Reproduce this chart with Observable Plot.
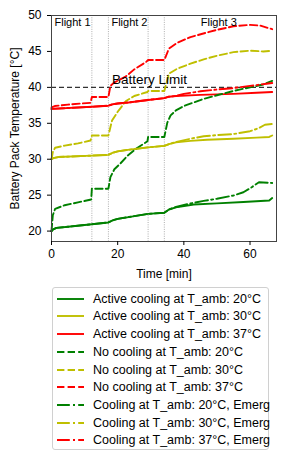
<!DOCTYPE html>
<html>
<head>
<meta charset="utf-8">
<script src="https://cdn.jsdelivr.net/npm/d3@7"></script>
<script src="https://cdn.jsdelivr.net/npm/@observablehq/plot@0.6"></script>
<style>
  body { margin: 0; background: #fff; font-family: "Liberation Sans", Arial, sans-serif; }
  #wrap { position: relative; width: 286px; height: 463px; }
  #legend { position: absolute; left: 52px; top: 287px; width: 217px; height: 163px;
    border: 1px solid #d0d0d0; border-radius: 3px; background: #fff; box-sizing: border-box; }
  .row { position: absolute; left: 0; height: 18px; display: flex; align-items: center; font-size: 12.5px; color: #000; white-space: nowrap; }
  .row svg { margin-left: 4px; margin-right: 9px; }
</style>
</head>
<body>
<div id="wrap"><div id="chart"></div><div id="legend"></div></div>
<script>
// ---- data ----
const flightBounds = [12.2, 17.2, 29.2, 34.1];
const tEnd = 67;
const batteryLimit = 40;
const flightLabels = ["Flight 1", "Flight 2", "Flight 3"];

const t_act20 = [0, 0.5, 1.5, 5, 12.2, 17.2, 18.5, 20, 23.3, 29.2, 34.1, 35.5, 37.6, 43, 50, 58, 65.8, 66.7];
const v_act20 = [20.0, 20.25, 20.45, 20.6, 20.95, 21.2, 21.5, 21.7, 21.95, 22.4, 22.55, 23.0, 23.3, 23.7, 23.85, 24.05, 24.25, 24.6];

const t_act30 = [0, 0.5, 2, 12.2, 17.2, 18.5, 20, 23, 29.2, 34.1, 35.5, 37.6, 42, 47, 55, 62, 65.8, 66.7];
const v_act30 = [30.0, 30.15, 30.3, 30.5, 30.6, 30.9, 31.1, 31.3, 31.65, 31.85, 32.1, 32.35, 32.55, 32.7, 32.85, 33.0, 33.1, 33.3];

const t_act37 = [0, 12.2, 17.2, 18.5, 20, 23.3, 29.2, 34.1, 35.5, 37.6, 45, 55, 62, 66.7];
const v_act37 = [37.0, 37.3, 37.45, 37.65, 37.75, 37.9, 38.25, 38.5, 38.7, 38.8, 38.95, 39.1, 39.25, 39.35];

const t_no20 = [0, 0.4, 1.1, 4, 8, 12.0, 12.2, 17.2, 17.8, 19, 20.8, 23, 26, 29, 29.2, 34.1, 35, 36, 37.6, 40, 43, 46, 50, 55, 60, 64, 66.7];
const v_no20 = [20.0, 22.2, 23.1, 23.6, 24.0, 24.4, 25.9, 25.9, 27.5, 28.6, 29.4, 30.5, 31.6, 32.5, 33.1, 33.1, 35.1, 36.1, 36.8, 37.4, 37.9, 38.4, 38.9, 39.5, 40.0, 40.4, 40.9];

const t_no30 = [0, 0.4, 1.1, 4, 8, 11.8, 12.2, 17.2, 18.3, 20, 22.5, 25, 29, 29.2, 34.1, 35.5, 38, 42, 46, 50, 55, 60, 64, 66.7];
const v_no30 = [30.0, 31.0, 31.6, 31.9, 32.2, 32.6, 33.3, 33.3, 35.4, 36.6, 38.1, 38.8, 39.35, 39.5, 39.5, 41.9, 42.6, 43.3, 43.9, 44.4, 44.9, 45.1, 45.0, 45.1];

const t_no37 = [0, 1, 5, 11.8, 12.2, 17.2, 17.8, 19, 20.8, 22.4, 25, 28.5, 29.2, 34.1, 35.5, 38, 42, 46.7, 50, 55, 60, 63, 66.7];
const v_no37 = [37.2, 37.4, 37.6, 37.85, 38.65, 38.65, 40.2, 40.7, 41.1, 41.5, 42.5, 43.5, 43.8, 43.8, 45.4, 46.2, 47.0, 47.6, 48.0, 48.5, 48.7, 48.6, 48.1];

const t_em20 = [0, 0.5, 1.5, 5, 12.2, 17.2, 18.5, 20, 23.3, 29.2, 34.1, 35.5, 37.6, 42, 46, 50, 55, 58, 60.5, 62.7, 66.7];
const v_em20 = [20.0, 20.25, 20.45, 20.6, 20.95, 21.2, 21.5, 21.7, 21.95, 22.4, 22.55, 23.0, 23.35, 23.85, 24.2, 24.5, 24.95, 25.4, 26.1, 26.8, 26.7];

const t_em30 = [0, 0.5, 2, 12.2, 17.2, 18.5, 20, 23, 29.2, 34.1, 35.5, 37.6, 42, 46, 50, 55, 60, 62.5, 64.5, 66.7];
const v_em30 = [30.0, 30.15, 30.3, 30.5, 30.6, 30.9, 31.1, 31.3, 31.65, 31.85, 32.1, 32.4, 32.85, 33.2, 33.35, 33.5, 33.9, 34.3, 34.8, 34.9];

const t_em37 = [0, 12.2, 17.2, 18.5, 20, 23.3, 29.2, 34.1, 35.5, 37.6, 40, 45, 50, 55, 60, 65, 66.7];
const v_em37 = [37.0, 37.3, 37.45, 37.65, 37.75, 37.9, 38.25, 38.5, 38.7, 38.8, 39.1, 39.45, 39.7, 39.9, 40.2, 40.5, 40.6];

const seriesNames = [
  "Active cooling at T_amb: 20°C", "Active cooling at T_amb: 30°C", "Active cooling at T_amb: 37°C",
  "No cooling at T_amb: 20°C", "No cooling at T_amb: 30°C", "No cooling at T_amb: 37°C",
  "Cooling at T_amb: 20°C, Emerg", "Cooling at T_amb: 30°C, Emerg", "Cooling at T_amb: 37°C, Emerg"
];
const seriesT = [t_act20, t_act30, t_act37, t_no20, t_no30, t_no37, t_em20, t_em30, t_em37];
const seriesV = [v_act20, v_act30, v_act37, v_no20, v_no30, v_no37, v_em20, v_em30, v_em37];

// ---- styles ----
const colors = ["#008000", "#bfbf00", "#ff0000"];
const dashes = [null, "7.4,3.2", "12.8,3.2,2,3.2"];
const lw = 1.9;

const lineMarks = seriesNames.map((name, i) => {
  const data = seriesT[i].map((t, j) => ({t, v: seriesV[i][j]}));
  return Plot.line(data, {x: "t", y: "v", stroke: colors[i % 3], strokeWidth: lw,
    strokeDasharray: dashes[Math.floor(i / 3)] || undefined, curve: "linear"});
});

const flightX = [0, flightBounds[1], (flightBounds[3] + tEnd) / 2];

const chart = Plot.plot({
  width: 286, height: 285,
  marginLeft: 51, marginRight: 10, marginTop: 15, marginBottom: 44,
  style: {fontFamily: "'Liberation Sans', Arial, sans-serif", fontSize: "12px", color: "#000", background: "#fff"},
  x: {domain: [0, 68]},
  y: {domain: [18.55, 50]},
  marks: [
    Plot.ruleX(flightBounds, {stroke: "#999", strokeWidth: 0.8, strokeDasharray: "1,1.3"}),
    Plot.ruleY([batteryLimit], {stroke: "#333", strokeWidth: 1.2, strokeDasharray: "5,3"}),
    ...lineMarks,
    Plot.text(flightLabels.slice(0, 2), {x: (d, i) => flightX[i], text: d => d, frameAnchor: "top",
      textAnchor: "start", lineAnchor: "top", dx: 3, dy: 3, fontSize: 11, fill: "#000"}),
    Plot.text(flightLabels.slice(2), {x: flightX[2], text: d => d, frameAnchor: "top",
      textAnchor: "middle", lineAnchor: "top", dy: 3, fontSize: 11, fill: "#000"}),
    Plot.text(["Battery Limit"], {x: 18.3, y: batteryLimit, text: d => d, textAnchor: "start", lineAnchor: "bottom", dy: -3, fontSize: 13.5, fill: "#000"}),
    Plot.frame({stroke: "#444", strokeWidth: 1}),
    Plot.axisX({ticks: [0, 20, 40, 60], tickSize: 4, tickPadding: 4, label: "Time [min]", labelAnchor: "center", labelArrow: "none", labelOffset: 36, fontSize: 12}),
    Plot.axisY({ticks: [20, 25, 30, 35, 40, 45, 50], tickSize: 4, tickPadding: 6, label: "Battery Pack Temperature [°C]", labelAnchor: "center", labelArrow: "none", labelOffset: 41, fontSize: 12})
  ]
});
document.getElementById("chart").appendChild(chart);

// ---- legend ----
const legend = document.getElementById("legend");
seriesNames.forEach((name, i) => {
  const row = document.createElement("div");
  row.className = "row";
  row.style.top = (1.7 + i * 17.7) + "px";
  const dash = dashes[Math.floor(i / 3)];
  row.innerHTML = `<svg width="27" height="6"><line x1="0" y1="3" x2="27" y2="3" stroke="${colors[i % 3]}" stroke-width="${lw}" ${dash ? `stroke-dasharray="${dash}"` : ""}/></svg><span>${name}</span>`;
  legend.appendChild(row);
});
</script>
</body>
</html>
